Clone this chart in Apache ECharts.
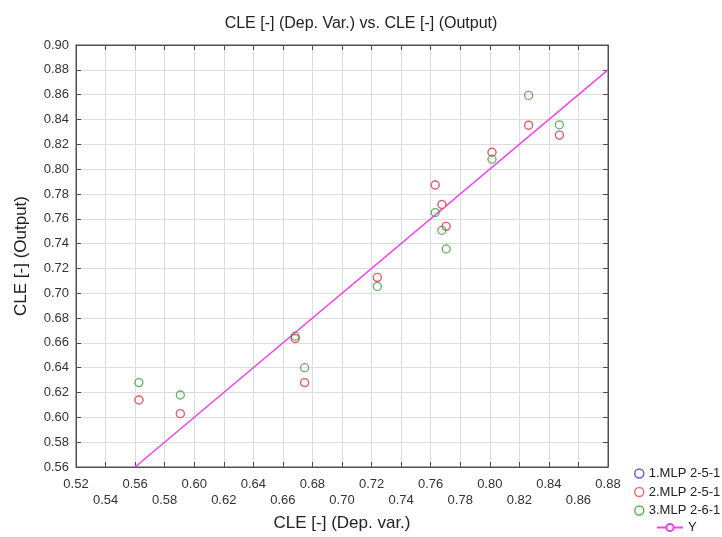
<!DOCTYPE html>
<html><head><meta charset="utf-8">
<script src="https://cdn.jsdelivr.net/npm/echarts@6/dist/echarts.min.js"></script>
<style>html,body{margin:0;padding:0;background:#fff}#c{width:722px;height:537px}</style>
</head><body><div id="c"></div>
<script>
// Dependent variable (observed CLE)
const depVar = [0.5626, 0.5906, 0.6683, 0.6747, 0.7239, 0.7631, 0.7676, 0.7705, 0.8015, 0.8263, 0.8471];
// Network outputs
const mlp1 = [0.614, 0.603, 0.6635, 0.628, 0.7128, 0.7872, 0.7715, 0.7539, 0.8136, 0.8354, 0.8274];
const mlp2 = [0.614, 0.603, 0.6635, 0.628, 0.7128, 0.7872, 0.7715, 0.7539, 0.8136, 0.8354, 0.8274];
const mlp3 = [0.628, 0.618, 0.6654, 0.640, 0.7055, 0.765, 0.7507, 0.7357, 0.808, 0.8594, 0.8357];
// Reference line Y
const fitX = [0.56, 0.88];
const fitY = [0.56, 0.88];
// Tick labels
const xTicksRow1 = ['0.52','0.56','0.60','0.64','0.68','0.72','0.76','0.80','0.84','0.88'];
const xTicksRow2 = ['0.54','0.58','0.62','0.66','0.70','0.74','0.78','0.82','0.86'];
const yTicks = ['0.56','0.58','0.60','0.62','0.64','0.66','0.68','0.70','0.72','0.74','0.76','0.78','0.80','0.82','0.84','0.86','0.88','0.90'];
const seriesNames = ['1.MLP 2-5-1', '2.MLP 2-5-1', '3.MLP 2-6-1', 'Y'];
const colors = ['#3a3ad0', '#ee4848', '#3c9a3c', '#ee44ee'];

const FONT = 'Liberation Sans, Arial, sans-serif';
const frame = '#505050';
const pairs = ys => depVar.map((x, i) => [x, ys[i]]);

const chart = echarts.init(document.getElementById('c'));
const xBase = {type: 'value', min: 0.52, max: 0.88, interval: 0.02, gridIndex: 0};
const yBase = {type: 'value', min: 0.56, max: 0.90, interval: 0.02, gridIndex: 0};
const lblStyle = {fontSize: 13, color: '#333', fontFamily: FONT};

function scatter(i, ys, fill, bw) {
  return {
    name: seriesNames[i], type: 'scatter', data: pairs(ys), symbol: 'circle', symbolSize: 8,
    itemStyle: {color: fill, borderColor: colors[i], borderWidth: bw},
    emphasis: {disabled: true}, z: 3 + i
  };
}

chart.setOption({
  animation: false,
  backgroundColor: '#fff',
  title: {text: 'CLE [-] (Dep. Var.) vs. CLE [-] (Output)', left: 'center', top: 11,
    textStyle: {fontSize: 16, fontWeight: 'normal', color: '#222', fontFamily: FONT}},
  grid: {left: 76, right: 114, top: 45, bottom: 67, show: true, borderColor: frame, borderWidth: 1},
  legend: [
    {data: seriesNames.slice(0, 3).map((n, i) => ({name: n, icon: 'circle',
       itemStyle: {color: 'rgba(0,0,0,0)', borderColor: colors[i], borderWidth: 1.5}})),
     orient: 'vertical', left: 634, top: 467, itemWidth: 9, itemHeight: 9, itemGap: 5.5, padding: 0,
     textStyle: {fontSize: 13, color: '#222', fontFamily: FONT}},
    {data: ['Y'], orient: 'vertical', left: 656, top: 521, itemWidth: 26, itemHeight: 9, padding: 0,
     textStyle: {fontSize: 13, color: '#222', fontFamily: FONT}}
  ],
  xAxis: [
    Object.assign({}, xBase, {position: 'bottom',
      axisLine: {show: true, lineStyle: {color: frame}},
      axisTick: {show: true, inside: true, length: 5, lineStyle: {color: frame}},
      splitLine: {show: true, lineStyle: {color: '#dddddd'}},
      axisLabel: Object.assign({margin: 11, formatter: v => { const s = v.toFixed(2); return xTicksRow1.includes(s) ? s : ''; }}, lblStyle),
      name: 'CLE [-] (Dep. var.)', nameLocation: 'middle', nameGap: 48,
      nameTextStyle: {fontSize: 17, color: '#222', fontFamily: FONT}}),
    Object.assign({}, xBase, {position: 'bottom',
      axisLine: {show: false}, axisTick: {show: false}, splitLine: {show: false},
      axisLabel: Object.assign({margin: 27, formatter: v => { const s = v.toFixed(2); return xTicksRow2.includes(s) ? s : ''; }}, lblStyle)}),
    Object.assign({}, xBase, {position: 'top',
      axisLine: {show: true, lineStyle: {color: frame}},
      axisTick: {show: true, inside: true, length: 5, lineStyle: {color: frame}},
      splitLine: {show: false}, axisLabel: {show: false}})
  ],
  yAxis: [
    Object.assign({}, yBase, {position: 'left',
      axisLine: {show: true, lineStyle: {color: frame}},
      axisTick: {show: true, inside: true, length: 5, lineStyle: {color: frame}},
      splitLine: {show: true, lineStyle: {color: '#dddddd'}},
      axisLabel: Object.assign({margin: 7, formatter: v => { const s = v.toFixed(2); return yTicks.includes(s) ? s : ''; }}, lblStyle),
      name: 'CLE [-] (Output)', nameLocation: 'middle', nameGap: 46,
      nameTextStyle: {fontSize: 17, color: '#222', fontFamily: FONT}}),
    Object.assign({}, yBase, {position: 'right',
      axisLine: {show: true, lineStyle: {color: frame}},
      axisTick: {show: true, inside: true, length: 5, lineStyle: {color: frame}},
      splitLine: {show: false}, axisLabel: {show: false}})
  ],
  series: [
    {name: 'Y', type: 'line', data: fitX.map((x, i) => [x, fitY[i]]), symbol: 'emptyCircle', symbolSize: 8,
     showSymbol: false, lineStyle: {color: colors[3], width: 1.5},
     itemStyle: {color: colors[3], borderColor: colors[3], borderWidth: 1.5}, emphasis: {disabled: true}, z: 2},
    scatter(0, mlp1, 'rgba(0,0,0,0)', 0.8), scatter(1, mlp2, '#ffffff', 1.4), scatter(2, mlp3, 'rgba(0,0,0,0)', 1.3)
  ]
});
</script></body></html>
